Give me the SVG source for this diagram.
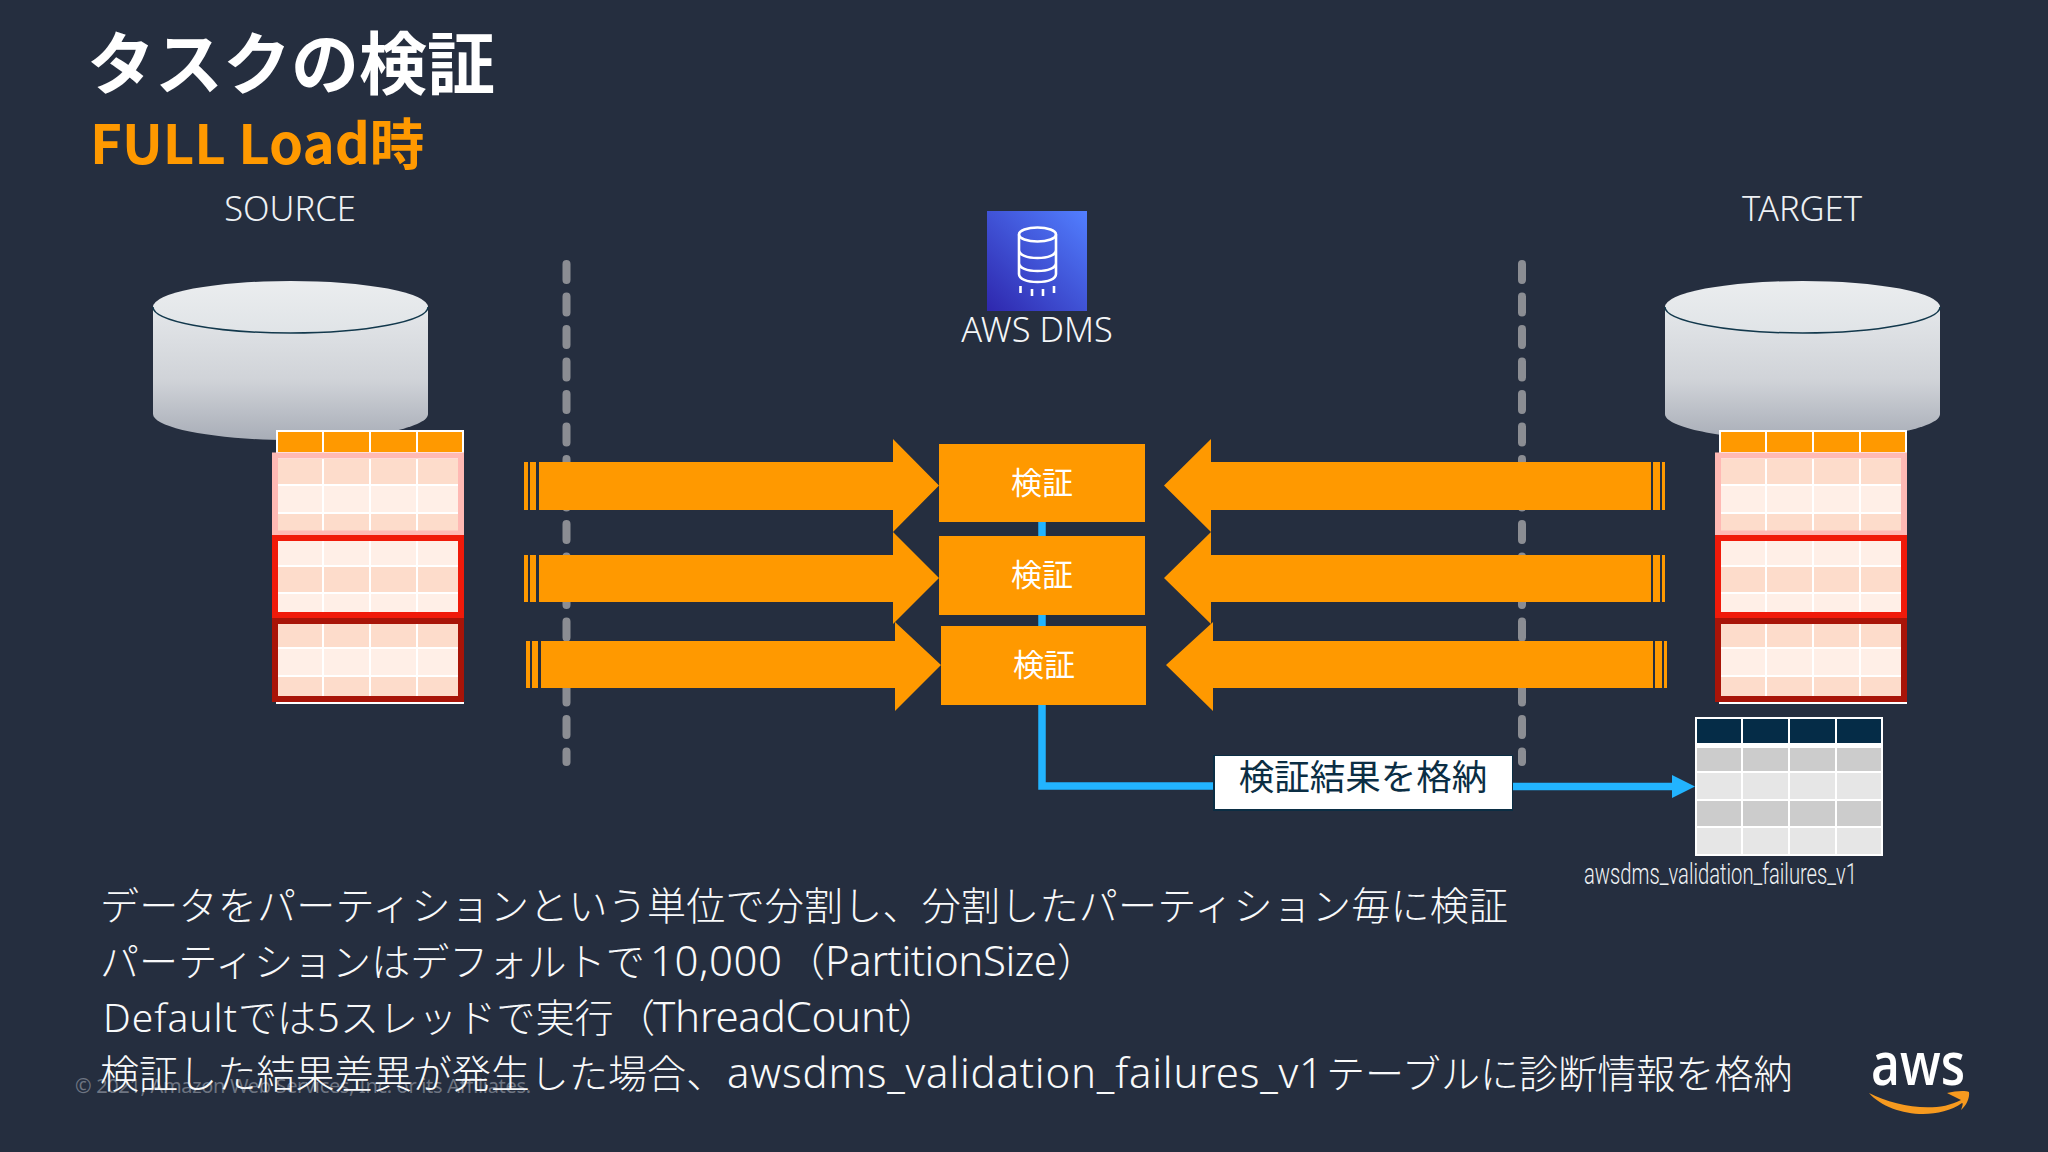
<svg xmlns="http://www.w3.org/2000/svg" xmlns:xlink="http://www.w3.org/1999/xlink" width="2048" height="1152" viewBox="0 0 2048 1152">
<style>
.jp{font-family:"Noto Sans","Noto Sans CJK JP",sans-serif}
.cj{font-family:"Noto Sans CJK JP",sans-serif}
.body{font-size:39.100px;fill:#f8f9fa;font-weight:300;font-family:"Noto Sans CJK JP",sans-serif}
.lat{font-family:"Noto Sans","Noto Sans CJK JP",sans-serif;font-size:42px}
.lbl{font-size:34.500px;fill:#eef1f4;font-weight:300;text-anchor:middle}
.ver{font-size:31px;fill:#fff;text-anchor:middle;font-weight:400}
.arr{fill:#ff9900}
.dash{stroke:#8b8d93;stroke-width:8;stroke-linecap:round;stroke-dasharray:16 16.500;fill:none}
.box{fill:#ff9900}
.dk{fill:#fddccb}.lt{fill:#ffefe7}
.grid{stroke:#fff;stroke-width:2;fill:none}
</style>
<defs>
<linearGradient id="cylBody" x1="0" y1="0" x2="0" y2="1"><stop offset="0" stop-color="#e4e7ea"/><stop offset="0.55" stop-color="#d0d3d8"/><stop offset="1" stop-color="#a8adb7"/></linearGradient>
<linearGradient id="cylTop" x1="0" y1="0" x2="0" y2="1"><stop offset="0" stop-color="#ebedef"/><stop offset="1" stop-color="#e0e4e7"/></linearGradient>
<linearGradient id="dms" x1="0" y1="1" x2="1" y2="0"><stop offset="0" stop-color="#2e27ad"/><stop offset="1" stop-color="#527fff"/></linearGradient>
<g id="cyl">
<path d="M0 26V133C0 147 62 159 137.500 159S275 147 275 133V26Z" fill="url(#cylBody)"/>
<ellipse cx="137.500" cy="26" rx="137.500" ry="26" fill="url(#cylTop)"/>
<path d="M0 26C0 40 62 52 137.500 52S275 40 275 26" fill="none" stroke="#12384c" stroke-width="1.500"/>
</g>
<g id="tbl">
<rect x="0" y="0" width="188" height="274" fill="#fff"/>
<rect x="2" y="2" width="184" height="20" class="box"/>
<rect x="0" y="29" width="188" height="26" class="dk"/>
<rect x="0" y="55" width="188" height="27" class="lt"/>
<rect x="0" y="84" width="188" height="26" class="dk"/>
<rect x="0" y="110" width="188" height="26" class="lt"/>
<rect x="0" y="137" width="188" height="26" class="dk"/>
<rect x="0" y="164" width="188" height="26" class="lt"/>
<rect x="0" y="193" width="188" height="25" class="dk"/>
<rect x="0" y="219" width="188" height="27" class="lt"/>
<rect x="0" y="247" width="188" height="24" class="dk"/>
<path class="grid" d="M47 0V274M94 0V274M141 0V274M0 55H188M0 83H188M0 109H188M0 136H188M0 163H188M0 191H188M0 218H188M0 246H188"/>
<rect x="-1" y="25.500" width="186" height="78" fill="none" stroke="#ffb9b4" stroke-width="6"/>
<rect x="-1" y="108" width="186" height="77" fill="none" stroke="#f01a0a" stroke-width="6"/>
<rect x="-1" y="191" width="186" height="78" fill="none" stroke="#a81408" stroke-width="6"/>
</g>
</defs>
<rect width="2048" height="1152" fill="#252e3f"/>
<text x="75" y="1093" font-size="20" fill="#6e7582" font-family="Noto Sans, sans-serif" textLength="456">© 2021, Amazon Web Services, Inc. or its Affiliates.</text>
<g id="guides"><path class="dash" d="M566.500 264V762"/><path class="dash" d="M1522 264V762"/></g>
<g id="title"><text x="87" y="89" font-size="68" font-weight="700" fill="#fff" class="cj">タスクの検証</text></g>
<g id="subtitle"><text x="90" y="164" font-size="54.600" font-weight="700" fill="#ff9900" class="cj">FULL Load時</text></g>
<g id="source-db">
<use xlink:href="#cyl" transform="translate(153,281)"/>
<use xlink:href="#tbl" transform="translate(276,430)"/>
<text x="290" y="221" class="lbl jp">SOURCE</text>
</g>
<g id="target-db">
<use xlink:href="#cyl" transform="translate(1665,281)"/>
<use xlink:href="#tbl" transform="translate(1719,430)"/>
<text x="1802" y="221" class="lbl jp">TARGET</text>
</g>
<g id="connectors">
<path d="M1042 505V786H1225" fill="none" stroke="#22b4ff" stroke-width="7.500"/>
<path d="M1500 786.500H1674" fill="none" stroke="#22b4ff" stroke-width="7.500"/>
<path d="M1672 775L1695 786.500 1672 798Z" fill="#22b4ff"/>
<g class="arr">
<path d="M539 462H893V439L939 485.500 893 532V510H539ZM524 462H528V510H524ZM530 462H536V510H530Z"/>
<path d="M539 555H893V532L939 578 893 624V602H539ZM524 555H528V602H524ZM530 555H536V602H530Z"/>
<path d="M541 641H895V622L941 665 895 711V688H541ZM526 641H530V688H526ZM532 641H538V688H532Z"/>
<path d="M1651 462H1211V439L1164 485.500 1211 532V510H1651ZM1662 462H1665V510H1662ZM1653 462H1660V510H1653Z"/>
<path d="M1651 555H1211V532L1164 578 1211 624V602H1651ZM1662 555H1665V602H1662ZM1653 555H1660V602H1653Z"/>
<path d="M1653 641H1213V622L1166 665 1213 711V688H1653ZM1664 641H1667V688H1664ZM1655 641H1662V688H1655Z"/>
</g>
</g>
<g id="dms-icon">
<rect x="987" y="211" width="100" height="100" fill="url(#dms)"/>
<g fill="none" stroke="#fff" stroke-width="2.600">
<ellipse cx="1037.500" cy="234.500" rx="18.500" ry="7"/>
<path d="M1019 234.500V274C1019 279 1027 282 1037.500 282S1056 279 1056 274V234.500M1019 250C1019 255 1027 258 1037.500 258S1056 255 1056 250M1019 263C1019 268 1027 271 1037.500 271S1056 268 1056 263M1020.500 286V293M1032 289V296M1043 289V296M1054 286V293"/>
</g>
<text x="1037" y="342" font-size="34.400" fill="#f4f6f8" text-anchor="middle" font-weight="300" class="jp">AWS DMS</text>
</g>
<g id="verify-1"><rect x="939" y="444" width="206" height="78" class="box"/><text x="1042" y="494" class="ver cj">検証</text></g>
<g id="verify-2"><rect x="939" y="536" width="206" height="79" class="box"/><text x="1042" y="586" class="ver cj">検証</text></g>
<g id="verify-3"><rect x="941" y="626" width="205" height="79" class="box"/><text x="1044" y="676" class="ver cj">検証</text></g>
<g id="result-label">
<rect x="1213" y="755" width="300" height="56" fill="#0b2e44"/>
<rect x="1215" y="756" width="297" height="53" fill="#fff"/>
<text x="1363" y="790" font-size="35.500" fill="#0b2e44" text-anchor="middle" font-weight="400" class="cj">検証結果を格納</text>
</g>
<g id="failures-table">
<rect x="1695" y="717" width="188" height="139" fill="#fff"/>
<g fill="#052c47"><rect x="1697" y="719" width="44" height="24"/><rect x="1743" y="719" width="45" height="24"/><rect x="1790" y="719" width="45" height="24"/><rect x="1837" y="719" width="44" height="24"/></g>
<rect x="1697" y="748" width="184" height="23" fill="#ccc"/><rect x="1697" y="773" width="184" height="26" fill="#e6e6e6"/>
<rect x="1697" y="801" width="184" height="25" fill="#ccc"/><rect x="1697" y="828" width="184" height="26" fill="#e6e6e6"/>
<path d="M1742 745V854M1789 745V854M1836 745V854" stroke="#fff" stroke-width="2"/>
<text x="1584" y="884" font-size="29" fill="#eef1f4" font-family="Roboto, sans-serif" font-weight="300" textLength="273" lengthAdjust="spacingAndGlyphs">awsdms_validation_failures_v1</text>
</g>
<g id="notes">
<text x="100" y="920" class="body" textLength="1408">データをパーティションという単位で分割し、分割したパーティション毎に検証</text>
<text y="976" class="body"><tspan x="100">パーティションはデフォルトで</tspan><tspan x="650" class="lat" textLength="132">10,000</tspan><tspan x="786">（</tspan><tspan x="825" class="lat" textLength="232">PartitionSize</tspan><tspan x="1057">）</tspan></text>
<text y="1032" class="body"><tspan x="103" class="lat" style="font-size:39px" textLength="134">Default</tspan><tspan x="238">では</tspan><tspan x="317" class="lat" style="font-size:40px">5</tspan><tspan x="340">スレッドで実行</tspan><tspan x="616">（</tspan><tspan x="653" class="lat" textLength="247">ThreadCount</tspan><tspan x="898">）</tspan></text>
<text y="1088" class="body"><tspan x="100">検証した結果差異が発生した場合、</tspan><tspan x="727" class="lat" textLength="596">awsdms_validation_failures_v1</tspan><tspan x="1326">テーブルに診断情報を格納</tspan></text>
</g>
<g id="aws-logo">
<text x="1871" y="1085" font-size="60" font-weight="600" fill="#fff" font-family="Open Sans, sans-serif" textLength="94" lengthAdjust="spacingAndGlyphs">aws</text>
<path d="M1869 1093C1895 1106 1935 1114 1961 1100L1947 1093C1955 1091 1965 1090 1969 1092 1970 1098 1966 1106 1961 1110 1963 1105 1963 1103 1962 1103 1935 1122 1888 1115 1869 1093Z" fill="#f79a1f"/>
</g>
</svg>
